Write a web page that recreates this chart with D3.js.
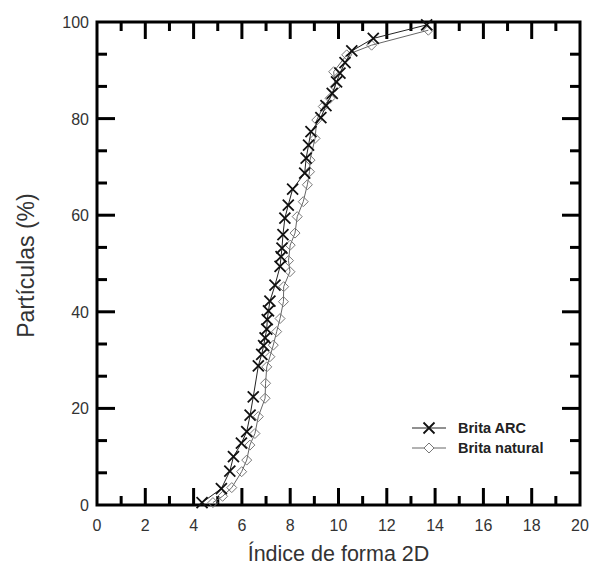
<!DOCTYPE html>
<html>
<head>
<meta charset="utf-8">
<script src="https://cdn.jsdelivr.net/npm/d3@7"></script>
<style>
  body { margin: 0; background: #fff; }
  svg { font-family: Arial, "Liberation Sans", sans-serif; }
</style>
</head>
<body>
<div id="chart"></div>
<script>
// Particle shape index curves

const arcX = [4.35, 5.15, 5.5, 5.65, 5.98, 6.2, 6.34, 6.47, 6.68, 6.82, 6.9, 6.96, 7.03, 7.05, 7.1, 7.16, 7.37, 7.58, 7.62, 7.66, 7.7, 7.78, 7.92, 8.1, 8.6, 8.66, 8.76, 8.86, 9.27, 9.48, 9.74, 9.92, 10.06, 10.27, 10.55, 11.44, 13.65];
const arcY = [0.5, 3.4, 7.0, 10.0, 12.8, 15.2, 18.6, 22.4, 28.8, 31.2, 33.0, 34.6, 36.4, 38.4, 40.2, 42.2, 45.5, 49.4, 51.4, 53.2, 56.0, 59.4, 62.1, 65.4, 68.7, 71.8, 74.5, 77.3, 80.2, 82.7, 85.2, 87.6, 89.4, 91.6, 94.0, 96.6, 99.4];

const natX = [4.8, 5.2, 5.58, 5.99, 6.2, 6.33, 6.54, 6.68, 6.96, 6.98, 7.03, 7.16, 7.3, 7.44, 7.58, 7.72, 7.73, 7.99, 7.93, 8.0, 8.2, 8.29, 8.54, 8.71, 8.8, 8.82, 9.03, 9.1, 9.37, 9.65, 9.86, 9.8, 10.34, 11.37, 13.72];
const natY = [0.5, 1.8, 3.6, 6.9, 9.3, 12.4, 14.8, 18.3, 22.1, 25.2, 28.6, 30.7, 33.1, 35.9, 38.6, 42.1, 45.2, 48.3, 50.6, 53.8, 56.3, 59.7, 62.8, 66.3, 69.0, 71.4, 75.9, 79.7, 82.5, 84.2, 86.6, 89.7, 93.2, 95.2, 98.3];

const xTicks = [0, 2, 4, 6, 8, 10, 12, 14, 16, 18, 20];
const yTicks = [0, 20, 40, 60, 80, 100];
const seriesNames = ["Brita ARC", "Brita natural"];

const W = 593, H = 576;
const margin = {top: 22, right: 13, bottom: 71, left: 97};

const svg = d3.select("#chart").append("svg")
    .attr("width", W)
    .attr("height", H);

const x = d3.scaleLinear().domain([0, 20]).range([margin.left, W - margin.right]);
const y = d3.scaleLinear().domain([0, 100]).range([H - margin.bottom, margin.top]);

const x0 = x(0), x1 = x(20), y0 = y(0), y1 = y(100);

// minor ticks
const xMinor = d3.range(1, 20, 2);
const yMinor = d3.range(0, 100, 20).flatMap(v => [v + 20 / 3, v + 40 / 3]);

const tk = svg.append("g").attr("stroke", "#000").attr("stroke-width", 3);
// inward ticks on all four sides
xTicks.slice(1, -1).forEach(v => {
    tk.append("line").attr("x1", x(v)).attr("x2", x(v)).attr("y1", y0).attr("y2", y0 - 17);
    tk.append("line").attr("x1", x(v)).attr("x2", x(v)).attr("y1", y1).attr("y2", y1 + 17);
});
xMinor.forEach(v => {
    tk.append("line").attr("x1", x(v)).attr("x2", x(v)).attr("y1", y0).attr("y2", y0 - 9);
    tk.append("line").attr("x1", x(v)).attr("x2", x(v)).attr("y1", y1).attr("y2", y1 + 9);
});
yTicks.slice(1, -1).forEach(v => {
    tk.append("line").attr("x1", x0).attr("x2", x0 + 18).attr("y1", y(v)).attr("y2", y(v));
    tk.append("line").attr("x1", x1).attr("x2", x1 - 18).attr("y1", y(v)).attr("y2", y(v));
});
yMinor.forEach(v => {
    tk.append("line").attr("x1", x0).attr("x2", x0 + 10).attr("y1", y(v)).attr("y2", y(v));
    tk.append("line").attr("x1", x1).attr("x2", x1 - 10).attr("y1", y(v)).attr("y2", y(v));
});

// frame
svg.append("rect")
    .attr("x", x0).attr("y", y1)
    .attr("width", x1 - x0).attr("height", y0 - y1)
    .attr("fill", "none").attr("stroke", "#000").attr("stroke-width", 3);

// tick labels
svg.append("g").selectAll("text").data(xTicks).enter().append("text")
    .attr("x", d => x(d)).attr("y", y0 + 26)
    .attr("text-anchor", "middle")
    .attr("font-size", 16).attr("fill", "#333")
    .text(d => d);

svg.append("g").selectAll("text").data(yTicks).enter().append("text")
    .attr("x", x0 - 8).attr("y", d => y(d) + 6)
    .attr("text-anchor", "end")
    .attr("font-size", 16).attr("fill", "#333")
    .text(d => d);

// axis titles
svg.append("text")
    .attr("x", (x0 + x1) / 2).attr("y", 561)
    .attr("text-anchor", "middle")
    .attr("font-size", 21.5).attr("fill", "#333")
    .text("Índice de forma 2D");

svg.append("text")
    .attr("transform", `translate(34,${(y0 + y1) / 2 + 2}) rotate(-90)`)
    .attr("text-anchor", "middle")
    .attr("font-size", 23).attr("fill", "#333")
    .text("Partículas (%)");

const arcData = arcX.map((v, i) => ({x: v, y: arcY[i]}));
const natData = natX.map((v, i) => ({x: v, y: natY[i]}));

const line = d3.line().x(d => x(d.x)).y(d => y(d.y));

function crossPath(cx, cy, r) {
    return `M${cx - r},${cy - r}L${cx + r},${cy + r}M${cx - r},${cy + r}L${cx + r},${cy - r}`;
}
function diamondPath(cx, cy, r) {
    return `M${cx},${cy - r}L${cx + r},${cy}L${cx},${cy + r}L${cx - r},${cy}Z`;
}

// natural series
svg.append("path").datum(natData)
    .attr("d", line).attr("fill", "none")
    .attr("stroke", "#666").attr("stroke-width", 1);
svg.append("g").selectAll("path").data(natData).enter().append("path")
    .attr("d", d => diamondPath(x(d.x), y(d.y), 5))
    .attr("fill", "none").attr("stroke", "#777").attr("stroke-width", 1);

// ARC series
svg.append("path").datum(arcData)
    .attr("d", line).attr("fill", "none")
    .attr("stroke", "#222").attr("stroke-width", 1);
svg.append("g").selectAll("path").data(arcData).enter().append("path")
    .attr("d", d => crossPath(x(d.x), y(d.y), 5.5))
    .attr("fill", "none").attr("stroke", "#111").attr("stroke-width", 1.8);

// legend
const leg = svg.append("g").selectAll("g").data(seriesNames).enter().append("g")
    .attr("transform", (d, i) => `translate(412,${428 + i * 20})`);
leg.append("line").attr("x1", 0).attr("x2", 34).attr("y1", 0).attr("y2", 0)
    .attr("stroke", (d, i) => i === 0 ? "#222" : "#666").attr("stroke-width", 1);
leg.append("path")
    .attr("d", (d, i) => i === 0 ? crossPath(17, 0, 5.5) : diamondPath(17, 0, 5))
    .attr("fill", (d, i) => i === 0 ? "none" : "#fff")
    .attr("stroke", (d, i) => i === 0 ? "#111" : "#777")
    .attr("stroke-width", (d, i) => i === 0 ? 1.8 : 1);
leg.append("text")
    .attr("x", 46).attr("y", 5)
    .attr("font-size", 14.5).attr("font-weight", "bold").attr("fill", "#222")
    .text(d => d);
</script>
</body>
</html>
